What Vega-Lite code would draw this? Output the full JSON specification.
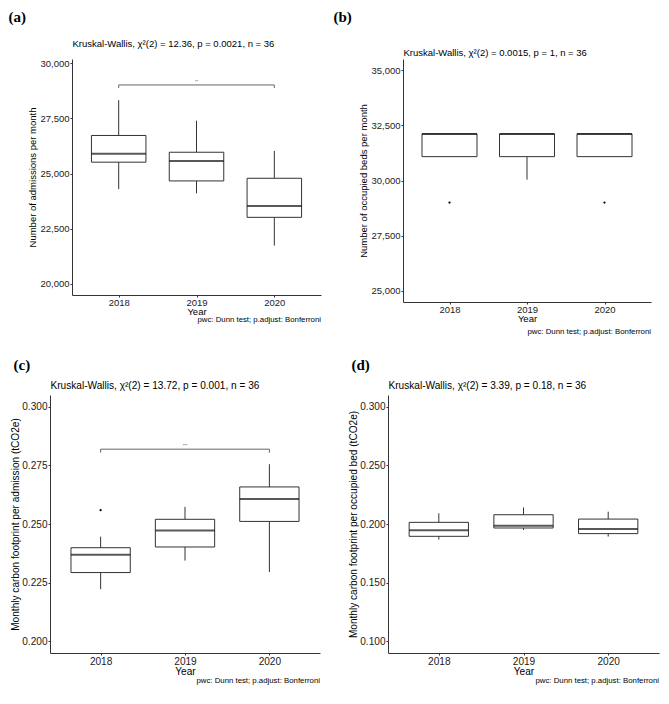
{
  "$schema": "https://vega.github.io/schema/vega-lite/v6.json",
  "background": "white",
  "padding": {"left": 8, "top": 9, "right": 0, "bottom": 2},
  "datasets": {
    "boxes": [
      {"panel": "a", "year": "2018", "min": 24300, "q1": 25520, "median": 25900, "q3": 26730, "max": 28330},
      {"panel": "a", "year": "2019", "min": 24110, "q1": 24670, "median": 25575, "q3": 25970, "max": 27400},
      {"panel": "a", "year": "2020", "min": 21740, "q1": 23020, "median": 23535, "q3": 24790, "max": 26030},
      {"panel": "b", "year": "2018", "min": 31080, "q1": 31080, "median": 32110, "q3": 32110, "max": 32110},
      {"panel": "b", "year": "2019", "min": 30040, "q1": 31080, "median": 32110, "q3": 32110, "max": 32110},
      {"panel": "b", "year": "2020", "min": 31080, "q1": 31080, "median": 32110, "q3": 32110, "max": 32110},
      {"panel": "c", "year": "2018", "min": 0.2222, "q1": 0.2293, "median": 0.2369, "q3": 0.2399, "max": 0.2446},
      {"panel": "c", "year": "2019", "min": 0.2344, "q1": 0.2402, "median": 0.2472, "q3": 0.2520, "max": 0.2573},
      {"panel": "c", "year": "2020", "min": 0.2295, "q1": 0.2511, "median": 0.2607, "q3": 0.2658, "max": 0.2755},
      {"panel": "d", "year": "2018", "min": 0.1867, "q1": 0.1895, "median": 0.1946, "q3": 0.2014, "max": 0.2091},
      {"panel": "d", "year": "2019", "min": 0.1949, "q1": 0.1966, "median": 0.1986, "q3": 0.2079, "max": 0.2141},
      {"panel": "d", "year": "2020", "min": 0.1893, "q1": 0.1918, "median": 0.1958, "q3": 0.2042, "max": 0.2105}
    ],
    "outliers": [
      {"panel": "b", "year": "2018", "value": 29000},
      {"panel": "b", "year": "2020", "value": 29000},
      {"panel": "c", "year": "2018", "value": 0.2559}
    ],
    "brackets": [
      {"panel": "a", "from": "2018", "to": "2020", "mid": "2019", "y": 29020, "label": "**"},
      {"panel": "c", "from": "2018", "to": "2020", "mid": "2019", "y": 0.2819, "label": "***"}
    ]
  },
  "center": true,
  "spacing": 21,
  "vconcat": [
    {
      "spacing": 12,
      "hconcat": [
        {
          "title": {"text": "pwc: Dunn test; p.adjust: Bonferroni", "orient": "bottom", "anchor": "end", "fontSize": 7.8, "fontWeight": "normal", "font": "Liberation Sans", "color": "black", "offset": 0},
          "vconcat": [{
            "width": 249, "height": 236,
            "data": {"name": "boxes"},
            "transform": [{"filter": "datum.panel === 'a'"}],
            "resolve": {"axis": {"y": "independent"}},
            "encoding": {
              "x": {"field": "year", "type": "ordinal", "title": "Year", "scale": {"type": "point", "padding": 0.6},
                    "axis": {"labelFontSize": 9.5, "titleFontSize": 9.5, "labelAngle": 0, "labelPadding": 0, "titlePadding": 0}}
            },
            "layer": [
              {"mark": {"type": "rule", "color": "#333", "strokeWidth": 1},
               "encoding": {"y": {"field": "min", "type": "quantitative", "title": "Number of admissions per month",
                                   "scale": {"domain": [19500, 30196], "nice": false, "zero": false},
                                   "axis": {"orient": "left", "values": [20000, 22500, 25000, 27500, 30000], "format": ",.0f", "labelFontSize": 9.5, "titleFontSize": 9.5, "titlePadding": 2}},
                            "y2": {"field": "max"}}},
              {"mark": {"type": "bar", "size": 54.5, "fill": "white", "stroke": "#333", "strokeWidth": 1},
               "encoding": {"y": {"field": "q1", "type": "quantitative", "title": "(a)",
                                   "axis": {"orient": "left", "labels": false, "ticks": false, "domain": false, "titleAngle": 0, "titleX": -64, "titleY": -50, "titleAlign": "left", "titleBaseline": "top", "titleFont": "Liberation Serif", "titleFontSize": 15, "titleFontWeight": "bold", "titleColor": "black"}},
                            "y2": {"field": "q3"}}},
              {"mark": {"type": "tick", "size": 54.5, "thickness": 2, "color": "#111"},
               "encoding": {"y": {"field": "median", "type": "quantitative", "title": "Kruskal-Wallis, χ²(2) = 12.36, p = 0.0021, n = 36",
                                   "axis": {"orient": "left", "labels": false, "ticks": false, "domain": false, "titleAngle": 0, "titleX": 0, "titleY": -16, "titleAlign": "left", "titleBaseline": "middle", "titleFont": "Liberation Sans", "titleFontSize": 9.5, "titleFontWeight": "normal", "titleColor": "black"}}}},
              {"data": {"name": "brackets"}, "transform": [{"filter": "datum.panel === 'a'"}],
               "mark": {"type": "rule", "color": "#666", "strokeWidth": 1},
               "encoding": {"x": {"field": "from", "type": "ordinal", "title": "Year"}, "x2": {"field": "to"},
                            "y": {"field": "y", "type": "quantitative", "axis": null}}},
              {"data": {"name": "brackets"}, "transform": [{"filter": "datum.panel === 'a'"}],
               "mark": {"type": "rule", "color": "#666", "strokeWidth": 1, "y2Offset": 3},
               "encoding": {"x": {"field": "from", "type": "ordinal", "title": "Year"},
                            "y": {"field": "y", "type": "quantitative", "axis": null}, "y2": {"field": "y"}}},
              {"data": {"name": "brackets"}, "transform": [{"filter": "datum.panel === 'a'"}],
               "mark": {"type": "rule", "color": "#666", "strokeWidth": 1, "y2Offset": 3},
               "encoding": {"x": {"field": "to", "type": "ordinal", "title": "Year"},
                            "y": {"field": "y", "type": "quantitative", "axis": null}, "y2": {"field": "y"}}},
              {"data": {"name": "brackets"}, "transform": [{"filter": "datum.panel === 'a'"}],
               "mark": {"type": "text", "fontSize": 4, "baseline": "bottom", "dy": -1, "color": "#444"},
               "encoding": {"x": {"field": "mid", "type": "ordinal", "title": "Year"},
                            "y": {"field": "y", "type": "quantitative", "axis": null}, "text": {"field": "label"}}}
            ]
          }]
        },
        {
          "title": {"text": "pwc: Dunn test; p.adjust: Bonferroni", "orient": "bottom", "anchor": "end", "fontSize": 7.8, "fontWeight": "normal", "font": "Liberation Sans", "color": "black", "offset": 5},
          "vconcat": [{
            "width": 248, "height": 243,
            "data": {"name": "boxes"},
            "transform": [{"filter": "datum.panel === 'b'"}],
            "resolve": {"axis": {"y": "independent"}},
            "encoding": {
              "x": {"field": "year", "type": "ordinal", "title": "Year", "scale": {"type": "point", "padding": 0.6},
                    "axis": {"labelFontSize": 9.5, "titleFontSize": 9.5, "labelAngle": 0, "labelPadding": 0, "titlePadding": 0}}
            },
            "layer": [
              {"mark": {"type": "rule", "color": "#333", "strokeWidth": 1},
               "encoding": {"y": {"field": "min", "type": "quantitative", "title": "Number of occupied beds per month",
                                   "scale": {"domain": [24500, 35500], "nice": false, "zero": false},
                                   "axis": {"orient": "left", "values": [25000, 27500, 30000, 32500, 35000], "format": ",.0f", "labelFontSize": 9.5, "titleFontSize": 9.5, "titlePadding": 2}},
                            "y2": {"field": "max"}}},
              {"mark": {"type": "bar", "size": 55, "fill": "white", "stroke": "#333", "strokeWidth": 1},
               "encoding": {"y": {"field": "q1", "type": "quantitative", "title": "(b)",
                                   "axis": {"orient": "left", "labels": false, "ticks": false, "domain": false, "titleAngle": 0, "titleX": -70, "titleY": -50, "titleAlign": "left", "titleBaseline": "top", "titleFont": "Liberation Serif", "titleFontSize": 15, "titleFontWeight": "bold", "titleColor": "black"}},
                            "y2": {"field": "q3"}}},
              {"mark": {"type": "tick", "size": 55, "thickness": 2, "color": "#111"},
               "encoding": {"y": {"field": "median", "type": "quantitative", "title": "Kruskal-Wallis, χ²(2) = 0.0015, p = 1, n = 36",
                                   "axis": {"orient": "left", "labels": false, "ticks": false, "domain": false, "titleAngle": 0, "titleX": 0, "titleY": -7, "titleAlign": "left", "titleBaseline": "middle", "titleFont": "Liberation Sans", "titleFontSize": 9.5, "titleFontWeight": "normal", "titleColor": "black"}}}},
              {"data": {"name": "outliers"}, "transform": [{"filter": "datum.panel === 'b'"}],
               "mark": {"type": "point", "shape": "circle", "filled": true, "size": 5, "color": "black", "opacity": 1},
               "encoding": {"y": {"field": "value", "type": "quantitative", "axis": null}}}
            ]
          }]
        }
      ]
    },
    {
      "spacing": 28,
      "hconcat": [
        {
          "title": {"text": "pwc: Dunn test; p.adjust: Bonferroni", "orient": "bottom", "anchor": "end", "fontSize": 7.8, "fontWeight": "normal", "font": "Liberation Sans", "color": "black", "offset": 1},
          "vconcat": [{
            "width": 270, "height": 258,
            "data": {"name": "boxes"},
            "transform": [{"filter": "datum.panel === 'c'"}],
            "resolve": {"axis": {"y": "independent"}},
            "encoding": {
              "x": {"field": "year", "type": "ordinal", "title": "Year", "scale": {"type": "point", "padding": 0.6},
                    "axis": {"labelFontSize": 10.1, "titleFontSize": 10.1, "labelAngle": 0, "labelPadding": 1, "titlePadding": 0}}
            },
            "layer": [
              {"mark": {"type": "rule", "color": "#333", "strokeWidth": 1},
               "encoding": {"y": {"field": "min", "type": "quantitative", "title": "Monthly carbon footprint per admission (tCO2e)",
                                   "scale": {"domain": [0.195, 0.305], "nice": false, "zero": false},
                                   "axis": {"orient": "left", "values": [0.2, 0.225, 0.25, 0.275, 0.3], "format": ".3f", "labelFontSize": 10.1, "titleFontSize": 10.1, "titlePadding": 1}},
                            "y2": {"field": "max"}}},
              {"mark": {"type": "bar", "size": 59.3, "fill": "white", "stroke": "#333", "strokeWidth": 1},
               "encoding": {"y": {"field": "q1", "type": "quantitative", "title": "(c)",
                                   "axis": {"orient": "left", "labels": false, "ticks": false, "domain": false, "titleAngle": 0, "titleX": -37, "titleY": -38, "titleAlign": "left", "titleBaseline": "top", "titleFont": "Liberation Serif", "titleFontSize": 15, "titleFontWeight": "bold", "titleColor": "black"}},
                            "y2": {"field": "q3"}}},
              {"mark": {"type": "tick", "size": 59.3, "thickness": 2, "color": "#111"},
               "encoding": {"y": {"field": "median", "type": "quantitative", "title": "Kruskal-Wallis, χ²(2) = 13.72, p = 0.001, n = 36",
                                   "axis": {"orient": "left", "labels": false, "ticks": false, "domain": false, "titleAngle": 0, "titleX": 0, "titleY": -10, "titleAlign": "left", "titleBaseline": "middle", "titleFont": "Liberation Sans", "titleFontSize": 10.1, "titleFontWeight": "normal", "titleColor": "black"}}}},
              {"data": {"name": "outliers"}, "transform": [{"filter": "datum.panel === 'c'"}],
               "mark": {"type": "point", "shape": "circle", "filled": true, "size": 5, "color": "black", "opacity": 1},
               "encoding": {"y": {"field": "value", "type": "quantitative", "axis": null}}},
              {"data": {"name": "brackets"}, "transform": [{"filter": "datum.panel === 'c'"}],
               "mark": {"type": "rule", "color": "#666", "strokeWidth": 1},
               "encoding": {"x": {"field": "from", "type": "ordinal", "title": "Year"}, "x2": {"field": "to"},
                            "y": {"field": "y", "type": "quantitative", "axis": null}}},
              {"data": {"name": "brackets"}, "transform": [{"filter": "datum.panel === 'c'"}],
               "mark": {"type": "rule", "color": "#666", "strokeWidth": 1, "y2Offset": 3.5},
               "encoding": {"x": {"field": "from", "type": "ordinal", "title": "Year"},
                            "y": {"field": "y", "type": "quantitative", "axis": null}, "y2": {"field": "y"}}},
              {"data": {"name": "brackets"}, "transform": [{"filter": "datum.panel === 'c'"}],
               "mark": {"type": "rule", "color": "#666", "strokeWidth": 1, "y2Offset": 3.5},
               "encoding": {"x": {"field": "to", "type": "ordinal", "title": "Year"},
                            "y": {"field": "y", "type": "quantitative", "axis": null}, "y2": {"field": "y"}}},
              {"data": {"name": "brackets"}, "transform": [{"filter": "datum.panel === 'c'"}],
               "mark": {"type": "text", "fontSize": 4, "baseline": "bottom", "dy": -1, "color": "#444"},
               "encoding": {"x": {"field": "mid", "type": "ordinal", "title": "Year"},
                            "y": {"field": "y", "type": "quantitative", "axis": null}, "text": {"field": "label"}}}
            ]
          }]
        },
        {
          "title": {"text": "pwc: Dunn test; p.adjust: Bonferroni", "orient": "bottom", "anchor": "end", "fontSize": 7.8, "fontWeight": "normal", "font": "Liberation Sans", "color": "black", "offset": 1, "dx": -14},
          "vconcat": [{
            "width": 285, "height": 258,
            "data": {"name": "boxes"},
            "transform": [{"filter": "datum.panel === 'd'"}],
            "resolve": {"axis": {"y": "independent"}},
            "encoding": {
              "x": {"field": "year", "type": "ordinal", "title": "Year", "scale": {"type": "point", "padding": 0.6, "range": [0, 271]},
                    "axis": {"labelFontSize": 10.1, "titleFontSize": 10.1, "labelAngle": 0, "labelPadding": 1, "titlePadding": 0}}
            },
            "layer": [
              {"mark": {"type": "rule", "color": "#333", "strokeWidth": 1},
               "encoding": {"y": {"field": "min", "type": "quantitative", "title": "Monthly carbon footprint per occupied bed (tCO2e)",
                                   "scale": {"domain": [0.09, 0.31], "nice": false, "zero": false},
                                   "axis": {"orient": "left", "values": [0.1, 0.15, 0.2, 0.25, 0.3], "format": ".3f", "labelFontSize": 10.1, "titleFontSize": 10.1, "titlePadding": 1}},
                            "y2": {"field": "max"}}},
              {"mark": {"type": "bar", "size": 59.3, "fill": "white", "stroke": "#333", "strokeWidth": 1},
               "encoding": {"y": {"field": "q1", "type": "quantitative", "title": "(d)",
                                   "axis": {"orient": "left", "labels": false, "ticks": false, "domain": false, "titleAngle": 0, "titleX": -37, "titleY": -38, "titleAlign": "left", "titleBaseline": "top", "titleFont": "Liberation Serif", "titleFontSize": 15, "titleFontWeight": "bold", "titleColor": "black"}},
                            "y2": {"field": "q3"}}},
              {"mark": {"type": "tick", "size": 59.3, "thickness": 2, "color": "#111"},
               "encoding": {"y": {"field": "median", "type": "quantitative", "title": "Kruskal-Wallis, χ²(2) = 3.39, p = 0.18, n = 36",
                                   "axis": {"orient": "left", "labels": false, "ticks": false, "domain": false, "titleAngle": 0, "titleX": 0, "titleY": -10, "titleAlign": "left", "titleBaseline": "middle", "titleFont": "Liberation Sans", "titleFontSize": 10.1, "titleFontWeight": "normal", "titleColor": "black"}}}}
            ]
          }]
        }
      ]
    }
  ],
  "config": {
    "font": "Liberation Sans",
    "view": {"stroke": null},
    "axis": {"grid": false, "domainColor": "#333", "domainWidth": 1, "tickColor": "#333", "tickSize": 2, "labelColor": "#222", "labelPadding": 1, "titleColor": "black", "titleFontWeight": "normal", "labelFont": "Liberation Sans", "titleFont": "Liberation Sans"},
    "axisX": {"labelAngle": 0},
    "title": {"fontWeight": "normal", "color": "black"}
  }
}
